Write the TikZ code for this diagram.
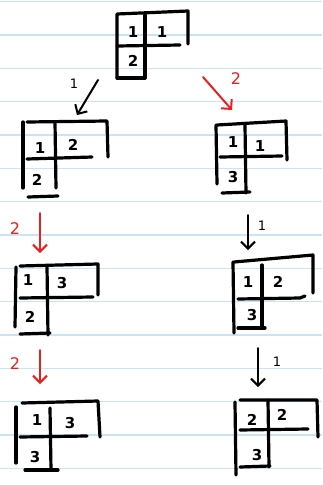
\documentclass[tikz,border=0pt]{standalone}
\usepackage{xcolor}
\usepackage{fontspec}
\setmainfont{DejaVu Sans}
\usetikzlibrary{arrows.meta}

\definecolor{paperline}{RGB}{200,228,248}
\definecolor{penred}{RGB}{232,32,32}

\begin{document}
\begin{tikzpicture}[x=1pt,y=-1pt,
    grid/.style={black,line width=3.2pt,line cap=round,line join=round},
    num/.style={font=\fontsize{15}{15}\selectfont\bfseries},
    lbl/.style={font=\fontsize{13}{13}\selectfont},
    redlbl/.style={font=\fontsize{16}{16}\selectfont,text=penred},
    blkarrow/.style={black,line width=2pt,line cap=round,-{Straight Barb[length=7pt,width=14pt]}},
    redarrow/.style={penred,line width=2pt,line cap=round,-{Straight Barb[length=7pt,width=14pt]}}]

    \useasboundingbox (0,0) rectangle (322,485);
    \fill[white] (0,0) rectangle (322,485);

    % 纸上的横线
    \foreach \k in {0,...,14}
        \draw[paperline,line width=1.2pt] (0,1.7+33.33*\k) -- (322,1.7+33.33*\k);

    % 箭头端点
    \coordinate (A) at (98,80);
    \coordinate (B) at (77,115);
    \coordinate (C) at (203,77);
    \coordinate (D) at (232,110);
    \coordinate (E) at (40,213);
    \coordinate (F) at (40,253);
    \coordinate (G) at (248,215);
    \coordinate (H) at (248,250);
    \coordinate (I) at (40,350);
    \coordinate (J) at (40,384);
    \coordinate (K) at (258,348);
    \coordinate (L) at (258,387);

    % 上面的表
    \draw[grid] (117,78) -- (117,14) -- (188,11) -- (188,44);
    \draw[grid] (117,46) -- (180,45);
    \draw[grid] (145,15) -- (145,78);
    \draw[grid] (117,78) -- (145,78);
    \node[num] (t1a) at (133,32) {1};
    \node[num] (t1b) at (162,32) {1};
    \node[num] (t1c) at (133,61) {2};

    % 左边第二个
    \draw[grid] (23,188) -- (23,122);
    \draw[grid] (27,122) -- (107,121) -- (108,157);
    \draw[grid] (55,122) -- (56,188);
    \draw[grid] (27,159) -- (92,157);
    \draw[grid] (28,197) -- (58,196);
    \node[num] (l2a) at (40,148) {1};
    \node[num] (l2b) at (73,145) {2};
    \node[num] (l2c) at (37,180) {2};

    % 右边第二个
    \draw[grid] (216,125) -- (217,184);
    \draw[grid] (217,125) -- (286,121) -- (287,160);
    \draw[grid] (245,125) -- (246,193);
    \draw[grid] (220,157) -- (282,156);
    \draw[grid] (222,193) -- (250,192);
    \node[num] (r2a) at (233,142) {1};
    \node[num] (r2b) at (260,146) {1};
    \node[num] (r2c) at (233,177) {3};

    % 左边第三个
    \draw[grid] (15,327) -- (16,267);
    \draw[grid] (20,266) -- (98,264) -- (98,295);
    \draw[grid] (47,266) -- (48,335);
    \draw[grid] (20,298) -- (93,297);
    \draw[grid] (20,334) -- (50,333);
    \node[num] (l3a) at (28,280) {1};
    \node[num] (l3b) at (62,283) {3};
    \node[num] (l3c) at (30,317) {2};

    % 右边第三个
    \draw[grid] (233,262) -- (234,333);
    \draw[grid] (234,262) -- (313,255) -- (313,293);
    \draw[grid] (262,265) -- (262,328);
    \draw[grid] (238,299) -- (300,298) -- (305,296);
    \draw[grid] (238,328) -- (265,328);
    \node[num] (r3a) at (248,282) {1};
    \node[num] (r3b) at (278,282) {2};
    \node[num] (r3c) at (252,315) {3};

    % 左边第四个
    \draw[grid] (16,407) -- (16,463);
    \draw[grid] (22,403) -- (98,401) -- (100,437);
    \draw[grid] (50,408) -- (51,470);
    \draw[grid] (20,437) -- (87,436);
    \draw[grid] (25,470) -- (58,470);
    \node[num] (l4a) at (37,420) {1};
    \node[num] (l4b) at (70,423) {3};
    \node[num] (l4c) at (35,457) {3};

    % 右边第四个
    \draw[grid] (235,402) -- (236,475);
    \draw[grid] (240,400) -- (317,400) -- (318,437);
    \draw[grid] (268,400) -- (269,467);
    \draw[grid] (240,430) -- (308,429);
    \draw[grid] (240,467) -- (270,466);
    \node[num] (r4a) at (252,420) {2};
    \node[num] (r4b) at (282,415) {2};
    \node[num] (r4c) at (257,455) {3};

    % 箭头和标记
    \draw[blkarrow] (A) -- (B);
    \node[lbl] (m1) at (74,84) {1};
    \draw[redarrow] (C) -- (D);
    \node[redlbl] (m2) at (236,79) {2};
    \draw[redarrow] (E) -- (F);
    \node[redlbl] (m3) at (15,229) {2};
    \draw[blkarrow] (G) -- (H);
    \node[lbl] (m4) at (262,226) {1};
    \draw[redarrow] (I) -- (J);
    \node[redlbl] (m5) at (15,364) {2};
    \draw[blkarrow] (K) -- (L);
    \node[lbl] (m6) at (277,362) {1};

\end{tikzpicture}
\end{document}
